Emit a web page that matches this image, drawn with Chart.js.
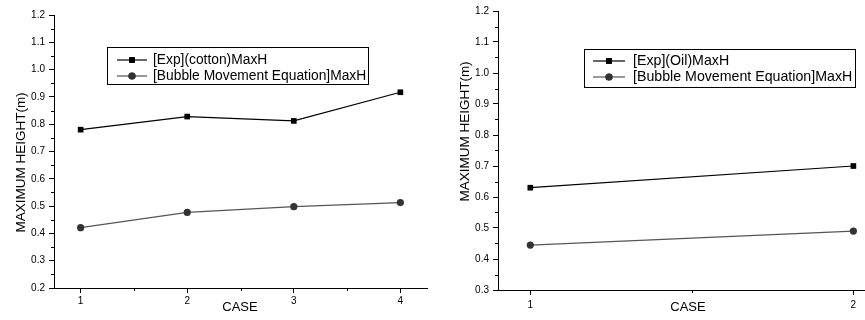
<!DOCTYPE html>
<html><head><meta charset="utf-8">
<script src="https://cdn.jsdelivr.net/npm/chart.js@4.4.0/dist/chart.umd.min.js"></script>
<style>
html,body{margin:0;padding:0;background:#fff;overflow:hidden;width:865px;height:320px;}
#wrap{position:relative;width:865px;height:320px;overflow:hidden;}
canvas{position:absolute;top:0;}
#c1{left:0;} #c2{left:440px;}
</style></head><body>
<div id="wrap"><canvas id="c1" width="440" height="320"></canvas><canvas id="c2" width="440" height="320"></canvas></div>
<script>
// ---- data ----
const casesLeft = [1, 2, 3, 4];
const expCotton = [0.780, 0.828, 0.812, 0.917];
const bubbleLeft = [0.421, 0.477, 0.498, 0.513];
const casesRight = [1, 2];
const expOil = [0.630, 0.700];
const bubbleRight = [0.445, 0.490];
const yTicksLeft = [0.2, 0.3, 0.4, 0.5, 0.6, 0.7, 0.8, 0.9, 1.0, 1.1, 1.2];
const yTicksRight = [0.3, 0.4, 0.5, 0.6, 0.7, 0.8, 0.9, 1.0, 1.1, 1.2];
const labelsLeft = ['[Exp](cotton)MaxH', '[Bubble Movement Equation]MaxH'];
const labelsRight = ['[Exp](Oil)MaxH', '[Bubble Movement Equation]MaxH'];
const xTitle = 'CASE';
const yTitle = 'MAXIMUM HEIGHT(m)';

const FONT = "'Liberation Sans', Arial, sans-serif";

function mids(arr){ const r=[]; for(let i=0;i<arr.length-1;i++) r.push((arr[i]+arr[i+1])/2); return r; }

const decor = {
  id: 'decor',
  afterDraw(chart, args, o) {
    const ctx = chart.ctx, xs = chart.scales.x, ys = chart.scales.y, ca = chart.chartArea;
    ctx.save();
    ctx.strokeStyle = '#000'; ctx.lineWidth = 1;
    // minor ticks
    o.yMinor.forEach(v => {
      const p = Math.round(ys.getPixelForValue(v)) + 0.5;
      ctx.beginPath(); ctx.moveTo(ca.left - 3, p); ctx.lineTo(ca.left, p); ctx.stroke();
    });
    o.xMinor.forEach(v => {
      const p = Math.round(xs.getPixelForValue(v)) + 0.5;
      ctx.beginPath(); ctx.moveTo(p, ca.bottom); ctx.lineTo(p, ca.bottom + 3); ctx.stroke();
    });
    // titles
    ctx.fillStyle = '#000';
    ctx.textAlign = 'center'; ctx.textBaseline = 'middle';
    ctx.font = '13px ' + FONT;
    ctx.fillText(o.xTitle, o.xTitlePos[0], o.xTitlePos[1]);
    ctx.save();
    ctx.translate(o.yTitlePos[0], o.yTitlePos[1]);
    ctx.rotate(-Math.PI / 2);
    ctx.font = '13.5px ' + FONT;
    ctx.fillText(o.yTitle, 0, 0);
    ctx.restore();
    // legend box
    const L = o.legend;
    ctx.fillStyle = '#fff';
    ctx.fillRect(L.x, L.y, L.w, L.h);
    ctx.strokeStyle = '#000'; ctx.lineWidth = 1;
    ctx.strokeRect(L.x + 0.5, L.y + 0.5, L.w, L.h);
    chart.data.datasets.forEach((ds, i) => {
      const y = L.rows[i];
      ctx.strokeStyle = ds.borderColor; ctx.lineWidth = 1.2;
      ctx.beginPath(); ctx.moveTo(L.lineX[0], y); ctx.lineTo(L.lineX[1], y); ctx.stroke();
      ctx.fillStyle = ds.pointBackgroundColor;
      Chart.helpers.drawPoint(ctx, {pointStyle: ds.pointStyle, radius: ds.pointRadius, borderWidth: 0, rotation: 0}, (L.lineX[0] + L.lineX[1]) / 2, y);
      ctx.fill();
      ctx.fillStyle = '#000';
      ctx.textAlign = 'left'; ctx.textBaseline = 'middle';
      ctx.font = L.font + 'px ' + FONT;
      ctx.fillText(ds.label, L.textX, y + 0.5);
    });
    ctx.restore();
  }
};

function makeChart(id, cases, s1, s2, labels, yTicks, cfg) {
  const mk = (xs, ys) => xs.map((x, i) => ({x: x, y: ys[i]}));
  return new Chart(document.getElementById(id), {
    type: 'line',
    data: {
      datasets: [
        {label: labels[0], data: mk(cases, s1), borderColor: '#000', borderWidth: 1.2,
         pointStyle: 'rect', pointRadius: 4, pointBorderWidth: 0, pointBackgroundColor: '#000', tension: 0},
        {label: labels[1], data: mk(cases, s2), borderColor: '#555', borderWidth: 1.2,
         pointStyle: 'circle', pointRadius: 3.6, pointBorderWidth: 0, pointBackgroundColor: '#333', tension: 0}
      ]
    },
    options: {
      responsive: false, animation: false,
      layout: {padding: {left: 0, top: cfg.top, right: cfg.right, bottom: 0}},
      plugins: {legend: {display: false}, tooltip: {enabled: false},
        decor: {
          yMinor: mids(yTicks), xMinor: mids(cases),
          xTitle: xTitle, yTitle: yTitle,
          xTitlePos: cfg.xTitlePos, yTitlePos: cfg.yTitlePos,
          legend: cfg.legend
        }},
      scales: {
        x: {type: 'linear', min: cfg.xMin, max: cfg.xMax,
          afterBuildTicks: s => { s.ticks = cases.map(v => ({value: v})); },
          afterFit: s => { s.height = cfg.xH; },
          grid: {drawOnChartArea: false, color: '#000', tickLength: 5, lineWidth: 1},
          border: {color: '#000', width: 1},
          ticks: {padding: cfg.xPad, color: '#000', font: {family: FONT, size: 10}, maxRotation: 0,
            callback: v => String(v)}},
        y: {min: yTicks[0], max: yTicks[yTicks.length - 1],
          afterBuildTicks: s => { s.ticks = yTicks.map(v => ({value: v})); },
          afterFit: s => { s.width = cfg.yW; },
          grid: {drawOnChartArea: false, color: '#000', tickLength: 5, lineWidth: 1},
          border: {color: '#000', width: 1},
          ticks: {padding: 4, color: '#000', font: {family: FONT, size: 10},
            callback: v => Number(v).toFixed(1)}}
      }
    },
    plugins: [decor]
  });
}

makeChart('c1', casesLeft, expCotton, bubbleLeft, labelsLeft, yTicksLeft, {
  top: 15, right: 13, xMin: 0.75, xMax: 4.25, xH: 32, yW: 54, xPad: 2,
  xTitlePos: [240, 307], yTitlePos: [21, 162.5],
  legend: {x: 107, y: 47, w: 261, h: 37, rows: [60, 76], lineX: [117, 147], textX: 153, font: 13.8}
});
makeChart('c2', casesRight, expOil, bubbleRight, labelsRight, yTicksRight, {
  top: 11, right: 0, xMin: 0.9, xMax: 2.07, xH: 30, yW: 58, xPad: 4,
  xTitlePos: [248, 307], yTitlePos: [25, 131.5],
  legend: {x: 144, y: 49, w: 271, h: 38, rows: [61, 77], lineX: [153, 185], textX: 193, font: 14.2}
});
</script>
</body></html>
